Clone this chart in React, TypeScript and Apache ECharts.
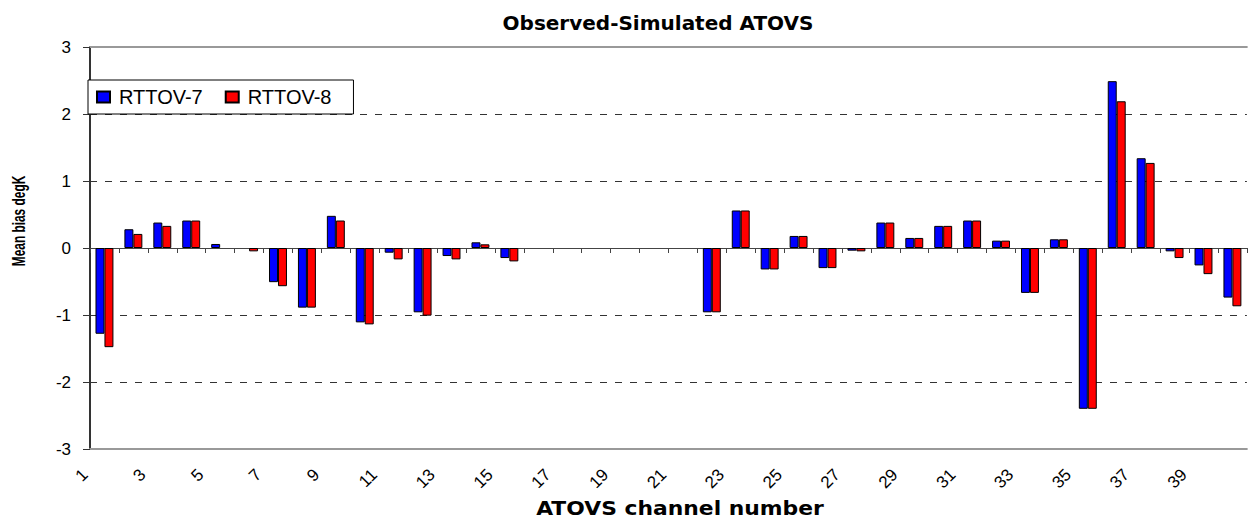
import React, { useEffect, useRef } from "react";
import * as echarts from "echarts";

// ATOVS channel numbers (categories)
const channels: string[] = [
  "1", "2", "3", "4", "5", "6", "7", "8", "9", "10",
  "11", "12", "13", "14", "15", "16", "17", "18", "19", "20",
  "21", "22", "23", "24", "25", "26", "27", "28", "29", "30",
  "31", "32", "33", "34", "35", "36", "37", "38", "39", "40",
];

// Mean bias (degK), Observed - Simulated
const rttov7: (number | null)[] = [
  -1.28, 0.28, 0.38, 0.41, 0.06, null, -0.51, -0.89, 0.48, -1.11,
  -0.07, -0.96, -0.12, 0.085, -0.15, null, null, null, null, null,
  null, -0.96, 0.56, -0.32, 0.18, -0.3, -0.04, 0.38, 0.15, 0.33,
  0.41, 0.11, -0.67, 0.13, -2.4, 2.49, 1.34, -0.05, -0.26, -0.74,
];
const rttov8: (number | null)[] = [
  -1.48, 0.21, 0.33, 0.41, null, -0.05, -0.57, -0.89, 0.41, -1.14,
  -0.17, -1.01, -0.17, 0.055, -0.2, null, null, null, null, null,
  null, -0.96, 0.56, -0.32, 0.18, -0.3, -0.05, 0.38, 0.15, 0.33,
  0.41, 0.11, -0.67, 0.13, -2.4, 2.19, 1.27, -0.15, -0.39, -0.87,
];

// x tick labels (shown at every other category boundary)
const xTickLabels: string[] = [
  "1", "3", "5", "7", "9", "11", "13", "15", "17", "19",
  "21", "23", "25", "27", "29", "31", "33", "35", "37", "39",
];

const seriesNames = ["RTTOV-7", "RTTOV-8"];
const titleText = "Observed-Simulated ATOVS";
const xName = "ATOVS channel number";
const yName = "Mean bias degK";

export default function App() {
  const ref = useRef<HTMLDivElement>(null);

  useEffect(() => {
    if (!ref.current) return;
    const chart = echarts.init(ref.current, null, { renderer: "svg" });

    // label axis: one slot per category boundary (41 boundaries)
    const boundaryLabels: string[] = [];
    for (let i = 0; i <= channels.length; i++) {
      const lbl = i < channels.length ? channels[i] : "";
      boundaryLabels.push(xTickLabels.indexOf(lbl) >= 0 ? lbl : "");
    }

    const dashColor = "#333";
    const clear = "rgba(0,0,0,0)";
    const splitColors = [clear, dashColor, dashColor, clear, dashColor, dashColor, clear];

    chart.setOption({
      animation: false,
      backgroundColor: "#fff",
      grid: { left: 90, right: 0, top: 47, bottom: 73, containLabel: false },
      legend: {
        left: 88,
        top: 80,
        orient: "horizontal",
        icon: "rect",
        itemWidth: 13,
        itemHeight: 11,
        itemGap: 22,
        padding: [7, 22, 7, 8],
        borderColor: "#000",
        borderWidth: 1,
        backgroundColor: "#fff",
        textStyle: {
          fontFamily: "Liberation Sans, Arial, sans-serif",
          fontSize: 20,
          color: "#000",
          padding: [0, 0, 0, 4],
        },
        data: seriesNames,
      },
      xAxis: [
        {
          type: "category",
          data: channels,
          position: "bottom",
          boundaryGap: true,
          axisLine: { show: true, onZero: true, lineStyle: { color: "#444", width: 1 } },
          axisTick: { show: true, length: 5, alignWithLabel: false, interval: 0, lineStyle: { color: "#444" } },
          axisLabel: { show: false },
          splitLine: { show: false },
        },
        {
          type: "category",
          data: boundaryLabels,
          position: "bottom",
          boundaryGap: false,
          axisLine: { show: true, onZero: false, lineStyle: { color: "#999", width: 2 } },
          axisTick: { show: false },
          axisLabel: {
            show: true,
            interval: 0,
            rotate: 45,
            margin: 18,
            padding: [0, 7, 0, 0],
            fontFamily: "Liberation Sans, Arial, sans-serif",
            fontSize: 17,
            color: "#000",
            hideOverlap: false,
          },
          splitLine: { show: false },
        },
        {
          type: "category",
          data: channels,
          position: "top",
          axisLine: { show: true, onZero: false, lineStyle: { color: "#999", width: 2 } },
          axisTick: { show: false },
          axisLabel: { show: false },
          splitLine: { show: false },
        },
      ],
      yAxis: {
        type: "value",
        min: -3,
        max: 3,
        interval: 1,
        axisLine: { show: true, lineStyle: { color: "#333", width: 2 } },
        axisTick: { show: true, length: 7, lineStyle: { color: "#333" } },
        axisLabel: {
          margin: 19,
          fontFamily: "Liberation Sans, Arial, sans-serif",
          fontSize: 17,
          color: "#000",
        },
        splitLine: {
          show: true,
          lineStyle: { color: splitColors, type: [7, 8], width: 1 },
        },
      },
      series: [
        {
          name: seriesNames[0],
          type: "bar",
          xAxisIndex: 0,
          data: rttov7,
          barGap: "0%",
          barCategoryGap: "38%",
          itemStyle: { color: "#0000ff", borderColor: "#000", borderWidth: 1 },
        },
        {
          name: seriesNames[1],
          type: "bar",
          xAxisIndex: 0,
          data: rttov8,
          barGap: "0%",
          barCategoryGap: "38%",
          itemStyle: { color: "#ff0000", borderColor: "#000", borderWidth: 1 },
        },
      ],
      graphic: [
        {
          type: "text",
          x: 658,
          y: 23,
          style: {
            text: titleText,
            textAlign: "center",
            textVerticalAlign: "middle",
            fontFamily: "DejaVu Sans, Liberation Sans, sans-serif",
            fontWeight: "bold",
            fontSize: 20,
            fill: "#000",
          },
        },
        {
          type: "text",
          x: 680,
          y: 509,
          scaleX: 1.15,
          style: {
            text: xName,
            textAlign: "center",
            textVerticalAlign: "middle",
            fontFamily: "DejaVu Sans, Liberation Sans, sans-serif",
            fontWeight: "bold",
            fontSize: 19,
            fill: "#000",
          },
        },
        {
          type: "text",
          x: 19,
          y: 221,
          rotation: Math.PI / 2,
          scaleX: 0.66,
          style: {
            text: yName,
            textAlign: "center",
            textVerticalAlign: "middle",
            fontFamily: "Liberation Sans, Arial, sans-serif",
            fontWeight: "bold",
            fontSize: 18,
            fill: "#000",
          },
        },
      ],
    });

    return () => {
      chart.dispose();
    };
  }, []);

  return (
    <div
      ref={ref}
      style={{ position: "absolute", left: 0, top: 0, width: "1249px", height: "522px" }}
    />
  );
}
